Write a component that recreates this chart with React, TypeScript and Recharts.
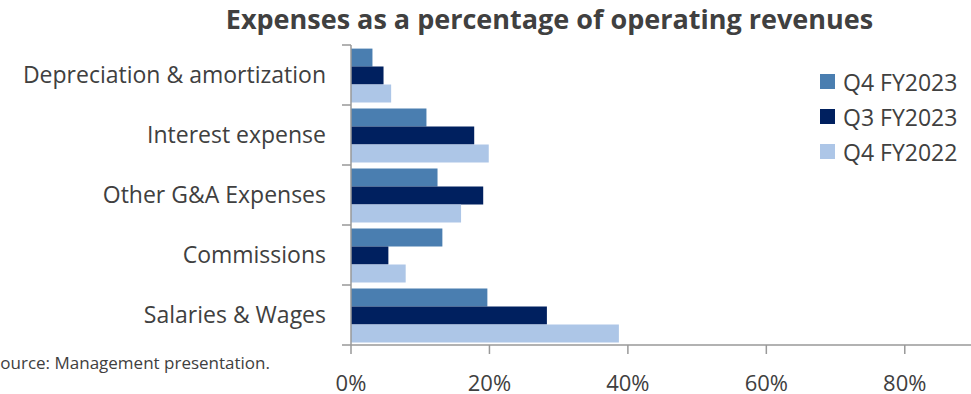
import { Bar, BarChart, Legend, XAxis, YAxis } from 'recharts';

const categories = [
  'Depreciation & amortization',
  'Interest expense',
  'Other G&A Expenses',
  'Commissions',
  'Salaries & Wages'
];
const q4Fy2023 = [0.031, 0.109, 0.125, 0.132, 0.197];
const q3Fy2023 = [0.047, 0.178, 0.191, 0.054, 0.283];
const q4Fy2022 = [0.058, 0.199, 0.159, 0.079, 0.387];
const seriesNames = ['Q4 FY2023', 'Q3 FY2023', 'Q4 FY2022'];
const seriesColors = ['#4a7eb0', '#00205f', '#adc6e7'];
const xTicks = [0, 0.2, 0.4, 0.6, 0.8];

const data = categories.map((name, i) => ({
  name,
  q4Fy2023: q4Fy2023[i],
  q3Fy2023: q3Fy2023[i],
  q4Fy2022: q4Fy2022[i]
}));

const font = '"Open Sans", sans-serif';
const textColor = '#404040';
const axisColor = '#999999';

const chartHeight = 394;
const marginTop = 45;
const xAxisHeight = 49;
const plotHeight = chartHeight - marginTop - xAxisHeight;
const bandHalf = plotHeight / categories.length / 2;
const yTickSize = 9;
const yTickMargin = 16;

function CategoryTick(props: any) {
  const { x, y, payload, index } = props;
  const axisX = x + yTickSize + yTickMargin;
  return (
    <g>
      <line x1={axisX - yTickSize} x2={axisX} y1={y - bandHalf} y2={y - bandHalf} stroke={axisColor} strokeWidth={1.5} />
      {index === categories.length - 1 ? (
        <line x1={axisX - yTickSize} x2={axisX} y1={y + bandHalf} y2={y + bandHalf} stroke={axisColor} strokeWidth={1.5} />
      ) : null}
      <text x={x} y={y + 8} textAnchor="end" fill={textColor} fontSize={23} fontFamily={font}>
        {payload.value}
      </text>
    </g>
  );
}

function renderLegend(props: any) {
  const payload = [...(props.payload ?? [])].sort(
    (a: any, b: any) => seriesNames.indexOf(a.value) - seriesNames.indexOf(b.value)
  );
  return (
    <ul style={{ listStyle: 'none', margin: 0, padding: 0 }}>
      {payload.map((entry: any) => (
        <li
          key={entry.value}
          style={{ display: 'flex', alignItems: 'center', height: 35, fontSize: 23, color: textColor, fontFamily: font }}
        >
          <span style={{ display: 'inline-block', width: 15, height: 15, background: entry.color, marginRight: 8 }} />
          {entry.value}
        </li>
      ))}
    </ul>
  );
}

export default function App() {
  return (
    <div
      style={{
        position: 'absolute',
        left: 0,
        top: 0,
        width: 971,
        height: 394,
        overflow: 'hidden',
        background: '#fff',
        fontFamily: font
      }}
    >
      <div
        style={{
          position: 'absolute',
          left: 0,
          top: -1,
          width: 1099,
          textAlign: 'center',
          fontSize: 27,
          fontWeight: 700,
          lineHeight: '40px',
          color: textColor,
          whiteSpace: 'nowrap'
        }}
      >
        Expenses as a percentage of operating revenues
      </div>
      <BarChart
        width={980}
        height={chartHeight}
        data={data}
        layout="vertical"
        barCategoryGap="6%"
        barGap={0}
        margin={{ top: marginTop, right: 6, bottom: 0, left: 0 }}
      >
        <XAxis
          type="number"
          domain={[0, 0.9]}
          ticks={xTicks}
          height={xAxisHeight}
          tickSize={9}
          tickMargin={21}
          axisLine={{ stroke: axisColor, strokeWidth: 1.5 }}
          tickLine={{ stroke: axisColor, strokeWidth: 1.5 }}
          tick={{ fill: textColor, fontSize: 22, fontFamily: font }}
          tickFormatter={(v: number) => `${Math.round(v * 100)}%`}
        />
        <YAxis
          type="category"
          dataKey="name"
          width={351}
          tickSize={yTickSize}
          tickMargin={yTickMargin}
          tickLine={false}
          axisLine={{ stroke: axisColor, strokeWidth: 1.5 }}
          tick={<CategoryTick />}
          interval={0}
        />
        <Legend
          layout="horizontal"
          verticalAlign="middle"
          align="center"
          wrapperStyle={{ top: 64, left: 820, width: 150 }}
          content={renderLegend}
        />
        <Bar dataKey="q4Fy2023" name={seriesNames[0]} fill={seriesColors[0]} isAnimationActive={false} />
        <Bar dataKey="q3Fy2023" name={seriesNames[1]} fill={seriesColors[1]} isAnimationActive={false} />
        <Bar dataKey="q4Fy2022" name={seriesNames[2]} fill={seriesColors[2]} isAnimationActive={false} />
      </BarChart>
      <div
        style={{
          position: 'absolute',
          right: 701,
          top: 353,
          whiteSpace: 'nowrap',
          fontSize: 17,
          lineHeight: '20px',
          color: textColor
        }}
      >
        Source: Management presentation.
      </div>
    </div>
  );
}
